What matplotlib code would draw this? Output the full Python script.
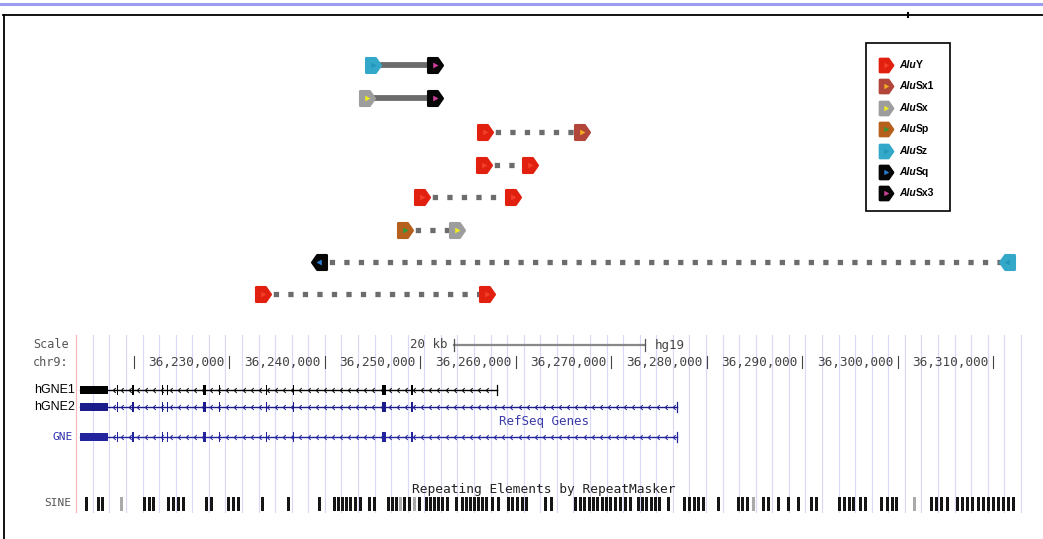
import numpy as np
import matplotlib
matplotlib.use("Agg")
from matplotlib import pyplot as plt
from matplotlib.path import Path
from matplotlib.markers import MarkerStyle
from matplotlib.patches import Rectangle

# genomic x values are kb past chr9:36,200,000
ruler_ticks = [20, 30, 40, 50, 60, 70, 80, 90, 100, 110]
scale_start = 53.56
scale_len = 20

alu_names = ["AluY", "AluSx1", "AluSx", "AluSp", "AluSz", "AluSq", "AluSx3"]
alu_outer = ["#e2200f", "#b3463b", "#9d9d9d", "#b6601d", "#33a8c8", "#060606", "#060606"]
alu_inner = ["#f2402c", "#f0b020", "#f0ec20", "#2e9a3c", "#2596bd", "#2a7fd6", "#d2409e"]

pair_left = [45.08, 44.45, 56.81, 56.70, 50.21, 48.43, 39.42, 33.56]
pair_right = [51.57, 51.57, 66.96, 61.52, 59.74, 53.87, 111.47, 57.02]
pair_left_type = ["AluSz", "AluSx", "AluY", "AluY", "AluY", "AluSp", "AluSq", "AluY"]
pair_right_type = ["AluSx3", "AluSx3", "AluSx1", "AluY", "AluY", "AluSx", "AluSz", "AluY"]
pair_strand = ["+", "+", "+", "+", "+", "+", "-", "+"]
pair_solid = [True, True, False, False, False, False, False, False]

gene_names = ["hGNE1", "hGNE2", "GNE"]
gene_colors = ["#000000", "#1b1b8c", "#23239e"]
gene_start = 14.40
gene_thick_end = 17.33
gene_ends = [58.06, 76.91, 76.91]
exon_starts = [18.27, 19.84, 22.98, 23.51, 27.28, 28.95, 33.87, 36.70, 46.02, 49.06]
exon_widths = [0.15, 0.25, 0.15, 0.15, 0.30, 0.15, 0.15, 0.15, 0.45, 0.25]

sine_starts = [14.92, 16.18, 16.60, 18.59, 20.99, 21.52, 21.94, 23.51, 24.03, 24.56,
               25.08, 27.49, 28.01, 29.79, 30.31, 30.84, 33.35, 36.07, 39.32, 40.89,
               41.31, 41.73, 42.15, 42.57, 43.09, 43.61, 44.55, 45.08, 46.54, 46.96,
               47.38, 47.80, 48.22, 48.74, 49.27, 49.79, 50.52, 50.94, 51.36, 51.78,
               52.20, 52.72, 53.66, 54.29, 54.71, 55.13, 55.55, 55.97, 56.39, 56.81,
               57.43, 58.06, 59.11, 59.53, 60.05, 60.58, 60.99, 62.98, 63.61, 66.12,
               66.65, 67.07, 67.59, 68.01, 68.43, 68.95, 69.37, 69.79, 70.31, 70.84,
               71.36, 71.88, 72.72, 73.14, 73.56, 74.08, 74.50, 74.92, 75.86, 77.54,
               78.06, 78.59, 79.00, 79.53, 81.10, 83.19, 83.61, 84.14, 84.76, 85.81,
               86.33, 87.38, 88.43, 89.48, 90.84, 91.36, 93.77, 94.29, 94.82, 95.23,
               95.97, 96.49, 98.17, 98.79, 99.32, 99.74, 101.62, 103.40, 103.93, 104.45,
               105.08, 106.12, 106.65, 107.17, 107.69, 108.32, 108.85, 109.37, 109.89,
               110.42, 110.94, 111.46, 111.99]
sine_faint = [18.59, 47.80, 49.27, 84.76, 101.62]

MONO = "DejaVu Sans Mono"
SANS = "Liberation Sans"

# pixel layout of the ruler
PX_PER_KB = 9.55
ORIGIN_KB, ORIGIN_PX = 30, 229
W, H = 1043, 539

house = Path([(-1, -1), (0.3, -1), (1, 0), (0.3, 1), (-1, 1), (-1, -1)],
             [Path.MOVETO] + [Path.LINETO] * 4 + [Path.CLOSEPOLY])
house_l = Path(house.vertices * [-1, 1], house.codes)
tri = Path([(-0.5, -0.6), (0.6, 0), (-0.5, 0.6), (-0.5, -0.6)],
           [Path.MOVETO, Path.LINETO, Path.LINETO, Path.CLOSEPOLY])
tri_l = Path(tri.vertices * [-1, 1], tri.codes)
chev = Path([(0.5, 1), (-0.5, 0), (0.5, -1)], [Path.MOVETO, Path.LINETO, Path.LINETO])


def alu_marker(ax, x, y, name, strand, size=10.5):
    i = alu_names.index(name)
    outer = MarkerStyle(house if strand == "+" else house_l, joinstyle="round")
    inner = MarkerStyle(tri if strand == "+" else tri_l)
    ax.plot([x], [y], ls="none", marker=outer, ms=size, mfc=alu_outer[i],
            mec=alu_outer[i], mew=1.8, zorder=4)
    ax.plot([x], [y], ls="none", marker=inner, ms=size * 0.35, mfc=alu_inner[i],
            mec=alu_inner[i], mew=0.3, zorder=5)


fig = plt.figure(figsize=(W / 100, H / 100), dpi=100)
page = fig.add_axes([0, 0, 1, 1])
page.set_xlim(0, W)
page.set_ylim(H, 0)
page.axis("off")

ax = fig.add_axes([0, 0, 1, 1])
ax.set_xlim(ORIGIN_KB - ORIGIN_PX / PX_PER_KB, ORIGIN_KB + (W - ORIGIN_PX) / PX_PER_KB)
ax.set_ylim(H, 0)
ax.axis("off")
ax.patch.set_alpha(0)

# page frame
page.plot([0, W], [4, 4], color="#9c9cf2", lw=2.2)
page.plot([3, W], [15, 15], color="k", lw=1.3)
page.plot([4, 4], [15, H], color="k", lw=1.3)
page.plot([908, 908], [13, 17], color="k", lw=1.5)

# Alu pairs
rows = [65, 98, 132, 165, 197, 230, 262, 294]
for k, y in enumerate(rows):
    if pair_solid[k]:
        ax.plot([pair_left[k], pair_right[k]], [y, y], color="#6c6c6c", lw=4.2,
                solid_capstyle="butt", zorder=3)
    else:
        ax.plot([pair_left[k], pair_right[k]], [y, y], color="#6c6c6c", lw=3.8,
                ls=(0.8, (1, 1.75)), dash_capstyle="butt", zorder=3)
    alu_marker(ax, pair_left[k], y, pair_left_type[k], pair_strand[k])
    alu_marker(ax, pair_right[k], y, pair_right_type[k], pair_strand[k])

# legend
page.add_patch(Rectangle((866, 43), 84, 168, fill=False, ec="k", lw=1.2))
for i, name in enumerate(alu_names):
    y = 65 + i * 21.4
    alu_marker(page, 886, y, name, "+", size=9.5)
    t = page.text(899, y, "Alu", fontsize=7.5, fontweight="bold", fontstyle="italic",
                  family=SANS, va="center", ha="left")
    page.annotate(name[3:], xy=(1, 0), xycoords=t, va="bottom", ha="left",
                  fontsize=7.5, fontweight="bold", family=SANS)

# guidelines
for g in np.arange(15.75, 113, 1.735):
    ax.plot([g, g], [335, 512], color="#d8d8fa", lw=0.8, zorder=1)
ax.plot([14.0, 14.0], [335, 512], color="#f4b8b8", lw=0.9, zorder=1)

# ruler
page.text(33, 345, "Scale", family=MONO, fontsize=8.5, color="#555555", va="center")
page.text(33, 362, "chr9:", family=MONO, fontsize=8.5, color="#555555", va="center")
ax.plot([scale_start, scale_start + scale_len], [345, 345], color="#888888", lw=1.6)
for e in [scale_start, scale_start + scale_len]:
    ax.plot([e, e], [339, 351], color="#555555", lw=0.9)
ax.text(scale_start - 0.7, 345, "20 kb", family=MONO, fontsize=9, color="#444444",
        ha="right", va="center")
ax.text(scale_start + scale_len + 1.0, 345, "hg19", family=MONO, fontsize=9,
        color="#444444", ha="left", va="center")
for k in ruler_ticks:
    ax.plot([k, k], [356, 368], color="#444444", lw=0.8)
    if k > ruler_ticks[0]:
        ax.text(k - 0.45, 362, f"{(36200 + k) * 1000:,}", family=MONO, fontsize=9.2,
                color="#444444", ha="right", va="center")

# genes
gene_rows = [390, 407, 437]
for name, col, end, y in zip(gene_names, gene_colors, gene_ends, gene_rows):
    ax.plot([gene_start, end], [y, y], color=col, lw=1.0, zorder=3)
    ax.add_patch(Rectangle((gene_start, y - 4), gene_thick_end - gene_start, 8,
                           color=col, lw=0, zorder=3))
    for s, w in zip(exon_starts, exon_widths):
        if s < end:
            ax.add_patch(Rectangle((s, y - 5), w, 10, color=col, lw=0, zorder=3))
    ax.plot([end, end], [y - 5, y + 5], color=col, lw=0.9, zorder=3)
    xs = np.arange(gene_thick_end + 0.6, end - 0.3, 0.85)
    ax.plot(xs, np.full(len(xs), y), ls="none", marker=MarkerStyle(chev), ms=3.5,
            mfc="none", mec=col, mew=0.7, zorder=3)
page.text(75, 390, "hGNE1", family=SANS, fontsize=9, ha="right", va="center")
page.text(75, 407, "hGNE2", family=SANS, fontsize=9, ha="right", va="center")
page.text(73, 437, "GNE", family=MONO, fontsize=8, color="#3030b0", ha="right",
          va="center")
ax.text(63.0, 422, "RefSeq Genes", family=MONO, fontsize=9, color="#3a3aa8",
        ha="center", va="center")

# repeats
ax.text(63.0, 490, "Repeating Elements by RepeatMasker", family=MONO, fontsize=9.3,
        color="#222222", ha="center", va="center")
page.text(71, 503, "SINE", family=MONO, fontsize=8, color="#555555", ha="right",
          va="center")
colors = ["#aaaaaa" if s in sine_faint else "#151515" for s in sine_starts]
ax.bar(sine_starts, 14, width=0.32, bottom=497, align="edge", color=colors, lw=0,
       zorder=3)

fig.savefig("out.png", dpi=100)
